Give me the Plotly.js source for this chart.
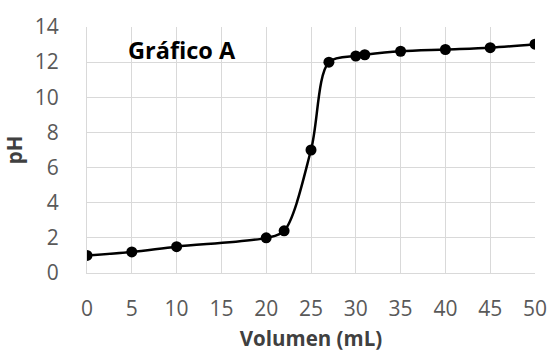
<!DOCTYPE html>
<html><head><meta charset="utf-8">
<script src="https://cdn.plot.ly/plotly-3.0.1.min.js"></script>
<style>body{margin:0;background:#fff}#c{width:549px;height:352px}</style>
</head><body><div id="c"></div>
<script>
const volumen = [0, 5, 10, 20, 22, 25, 27, 30, 31, 35, 40, 45, 50];
const pH = [1.0, 1.2, 1.5, 2.0, 2.4, 7.0, 12.0, 12.35, 12.42, 12.62, 12.72, 12.82, 13.02];
const chartTitle = "Gráfico A";
const xTitle = "Volumen (mL)";
const yTitle = "pH";

const tickFont = {family: "'Open Sans', Lato, sans-serif", size: 21, color: "#595959"};
const boldFont = {family: "'Open Sans', Lato, sans-serif", size: 20.5, color: "#404040", weight: 700};

Plotly.newPlot("c", [{
  x: volumen, y: pH, type: "scatter", mode: "lines+markers",
  line: {color: "#000", width: 2.5, shape: "spline", smoothing: 0.9},
  marker: {color: "#000", size: 11},
  hoverinfo: "skip"
}], {
  width: 549, height: 352,
  margin: {l: 87, r: 14, t: 27, b: 79},
  paper_bgcolor: "#fff", plot_bgcolor: "#fff",
  showlegend: false,
  xaxis: {
    range: [0, 50], tickvals: [0,5,10,15,20,25,30,35,40,45,50],
    showgrid: true, gridcolor: "#d9d9d9", gridwidth: 1,
    zeroline: false, showline: true, linecolor: "#d9d9d9", linewidth: 1,
    ticks: "", tickfont: tickFont, ticklabelstandoff: 17,
    title: {text: xTitle, font: boldFont, standoff: 13}
  },
  yaxis: {
    range: [0, 14], tickvals: [0,2,4,6,8,10,12,14],
    showgrid: true, gridcolor: "#d9d9d9", gridwidth: 1,
    zeroline: false, showline: true, linecolor: "#d9d9d9", linewidth: 1,
    ticks: "", tickfont: tickFont, ticklabelstandoff: 23,
    title: {text: yTitle, font: boldFont, standoff: 11}
  },
  annotations: [{
    text: chartTitle, xref: "x", yref: "y", x: 10.55, y: 12.7,
    showarrow: false, font: {family: "'Open Sans', Lato, sans-serif", size: 23.5, color: "#000", weight: 700}
  }]
}, {staticPlot: true});
</script></body></html>
